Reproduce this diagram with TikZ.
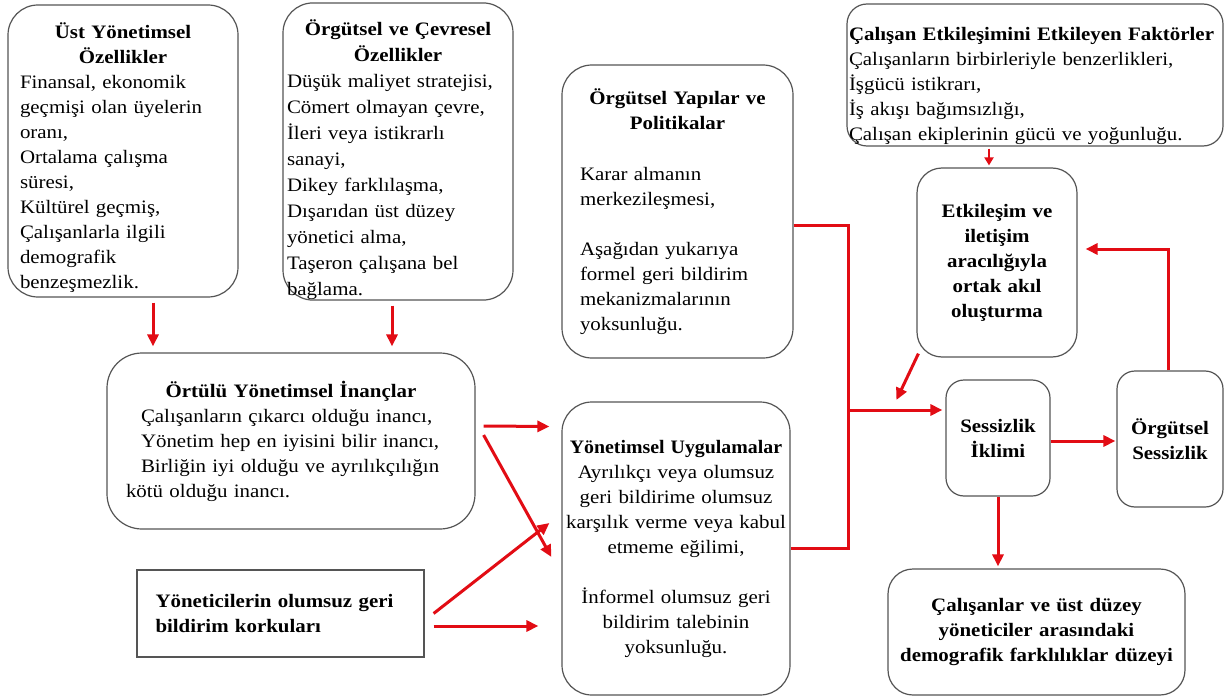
\documentclass[tikz,border=0pt]{standalone}
\usepackage{fontspec}
\usepackage{graphicx}
\setmainfont{Liberation Serif}[FakeStretch=1.1]
\usetikzlibrary{arrows.meta}
\definecolor{arrred}{RGB}{226,12,20}
\definecolor{boxgray}{RGB}{85,85,85}
\setlength{\parindent}{0pt}
\begin{document}
\begin{tikzpicture}[x=1pt,y=-1pt,
  box/.style={draw=boxgray, line width=1.2pt, fill=white, inner sep=0pt,
    font=\fontsize{19}{25}\selectfont},
  arr/.style={draw=arrred, line width=3pt, line join=miter,
    -{Triangle[length=12pt,width=11pt]}},
  smallarr/.style={draw=arrred, line width=2.4pt,
    -{Triangle[length=8pt,width=9pt]}},
  redline/.style={draw=arrred, line width=3pt, line join=miter}]
\fill[white] (0,0) rectangle (1226,698);
\useasboundingbox (0,0) rectangle (1226,698);

\node[box, rounded corners=30pt, minimum width=230pt, minimum height=292pt, text width=206pt] (a) at (123,151)
 {{\centering\bfseries\rule{0pt}{29pt}Üst Yönetimsel\\Özellikler\par}Finansal, ekonomik\\geçmişi olan üyelerin\\oranı,\\Ortalama çalışma\\süresi,\\Kültürel geçmiş,\\Çalışanlarla ilgili\\demografik\\benzeşmezlik.};

\node[box, rounded corners=30pt, minimum width=230pt, minimum height=293pt, text width=222pt, font=\fontsize{19}{26}\selectfont] (b) at (398,151.5)
 {{\centering\bfseries\rule{0pt}{33pt}Örgütsel ve Çevresel\\Özellikler\par}Düşük maliyet stratejisi,\\Cömert olmayan çevre,\\İleri veya istikrarlı\\sanayi,\\Dikey farklılaşma,\\Dışarıdan üst düzey\\yönetici alma,\\Taşeron çalışana bel\\bağlama.};

\node[box, rounded corners=30pt, minimum width=231pt, minimum height=293pt, text width=195pt] (c) at (677.5,211.5)
 {{\centering\bfseries Örgütsel Yapılar ve\\Politikalar\par}\vspace{26pt}Karar almanın\\merkezileşmesi,\\[25pt]Aşağıdan yukarıya\\formel geri bildirim\\mekanizmalarının\\yoksunluğu.};

\node[box, rounded corners=20pt, minimum width=376pt, minimum height=142pt, text width=372pt, inner ysep=-1.5pt] (d) at (1035,75)
 {\rule{0pt}{35pt}\textbf{Çalışan Etkileşimini Etkileyen Faktörler}\\Çalışanların birbirleriyle benzerlikleri,\\İşgücü istikrarı,\\İş akışı bağımsızlığı,\\Çalışan ekiplerinin gücü ve yoğunluğu.};

\node[box, rounded corners=25pt, minimum width=160pt, minimum height=189pt, text width=150pt, align=center] (e) at (997,262.5)
 {\bfseries Etkileşim ve\\iletişim\\aracılığıyla\\ortak akıl\\oluşturma};

\node[box, rounded corners=35pt, minimum width=368pt, minimum height=176pt, text width=330pt] (f) at (291,441)
 {{\centering\bfseries Örtülü Yönetimsel İnançlar\par}\hspace*{15pt}Çalışanların çıkarcı olduğu inancı,\\\hspace*{15pt}Yönetim hep en iyisini bilir inancı,\\\hspace*{15pt}Birliğin iyi olduğu ve ayrılıkçılığın\\kötü olduğu inancı.};

\node[box, minimum width=287pt, minimum height=87pt, text width=250pt] (g) at (280.5,613.5)
 {\bfseries Yöneticilerin olumsuz geri\\bildirim korkuları};

\node[box, rounded corners=30pt, minimum width=228pt, minimum height=293pt, text width=222pt, align=center] (h) at (676,548.5)
 {\scalebox{0.95}[1]{\bfseries Yönetimsel Uygulamalar}\\Ayrılıkçı veya olumsuz\\geri bildirime olumsuz\\karşılık verme veya kabul\\etmeme eğilimi,\\[25pt]İnformel olumsuz geri\\bildirim talebinin\\yoksunluğu.};

\node[box, rounded corners=18pt, minimum width=104pt, minimum height=116pt, text width=100pt, align=center] (i) at (998,438)
 {\bfseries Sessizlik\\İklimi};

\node[box, rounded corners=18pt, minimum width=106pt, minimum height=136pt, text width=100pt, align=center] (j) at (1170,439)
 {\bfseries Örgütsel\\Sessizlik};

\node[box, rounded corners=25pt, minimum width=297pt, minimum height=126pt, text width=290pt, align=center] (k) at (1036.5,632)
 {\bfseries Çalışanlar ve üst düzey\\yöneticiler arasındaki\\demografik farklılıklar düzeyi};

\coordinate (jn) at (848,410);
\coordinate (jb) at (848,548.5);

% arrows
\draw[arr] ([xshift=30pt,yshift=-5pt]a.south) -- ([xshift=-138pt,yshift=6pt]f.north);
\draw[arr] ([xshift=-6pt,yshift=-5pt]b.south) -- ([xshift=101pt,yshift=6pt]f.north);
\draw[arr] ([xshift=8pt,yshift=15pt]f.east) -- ([xshift=-12pt,yshift=122pt]h.west);
\draw[arr] ([xshift=8pt,yshift=6pt]f.east) -- ([xshift=-10pt,yshift=-8.5pt]h.west);
\draw[arr] ([xshift=9pt]g.east) -- ([xshift=-12pt,yshift=25.5pt]h.west);
\draw[arr] ([xshift=9pt,yshift=-12.5pt]g.east) -- ([xshift=-23pt,yshift=-77.5pt]h.west);
\draw[redline] ([yshift=-14pt]c.east) -| (jb) -- (h.east);
\draw[arr] (jn) -- ([xshift=-3pt,yshift=28pt]i.west);
\draw[arr] ([xshift=2pt,yshift=4pt]e.south west) -- ([xshift=-49pt,yshift=38pt]i.west);
\draw[arr] ([yshift=-3pt]i.east) -- ([yshift=-3pt,xshift=-1pt]i.east -| j.west);
\draw[arr] ([xshift=-2pt]j.north) |- ([xshift=8pt,yshift=13.5pt]e.east);
\draw[arr] (i.south) -- ([yshift=2pt]i.south |- k.north);
\draw[smallarr] ([xshift=-8pt,yshift=-2pt]e.north |- d.south) -- ([xshift=-8pt,yshift=2pt]e.north);
\end{tikzpicture}
\end{document}
